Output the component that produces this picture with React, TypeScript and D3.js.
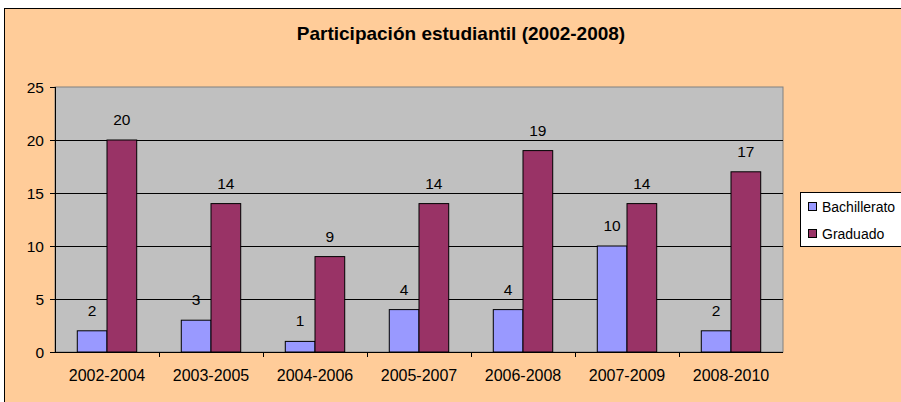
import React, { useEffect, useRef } from "react";
import * as d3 from "d3";

const categories = ["2002-2004", "2003-2005", "2004-2006", "2005-2007", "2006-2008", "2007-2009", "2008-2010"];
const seriesNames = ["Bachillerato", "Graduado"];
const bachillerato = [2, 3, 1, 4, 4, 10, 2];
const graduado = [20, 14, 9, 14, 19, 14, 17];
const yTicks = [0, 5, 10, 15, 20, 25];
const colors = ["#9999FF", "#993366"];

const App: React.FC = () => {
  const svgRef = useRef<SVGSVGElement | null>(null);

  useEffect(() => {
    const width = 901;
    const height = 402;
    const font = "Arial, 'Liberation Sans', sans-serif";
    const fs = 15.5;
    const plot = { left: 55, top: 87, right: 783, bottom: 352 };

    const svg = d3.select(svgRef.current).attr("width", width).attr("height", height);
    svg.selectAll("*").remove();

    // fondo del gráfico
    svg.append("rect").attr("width", width).attr("height", height).attr("fill", "#FFFFFF");
    svg
      .append("rect")
      .attr("x", 4.5)
      .attr("y", 8.5)
      .attr("width", width + 20)
      .attr("height", height + 20)
      .attr("fill", "#FFCC99")
      .attr("stroke", "#000")
      .attr("stroke-width", 1);

    svg
      .append("text")
      .attr("x", 461)
      .attr("y", 40)
      .attr("text-anchor", "middle")
      .attr("font-family", font)
      .attr("font-size", 19)
      .attr("font-weight", "bold")
      .text("Participación estudiantil (2002-2008)");

    const x0 = d3.scaleBand<string>().domain(categories).range([plot.left, plot.right]).paddingInner(0).paddingOuter(0);
    const groupW = (x0.bandwidth() * 2) / 3.5;
    const x1 = d3.scaleBand<string>().domain(seriesNames).range([0, groupW]);
    const y = d3.scaleLinear().domain([0, 25]).range([plot.bottom, plot.top]);

    svg
      .append("rect")
      .attr("x", plot.left)
      .attr("y", plot.top)
      .attr("width", plot.right - plot.left)
      .attr("height", plot.bottom - plot.top)
      .attr("fill", "#C0C0C0")
      .attr("stroke", "#808080");

    // líneas de cuadrícula
    svg
      .append("g")
      .selectAll("line")
      .data(yTicks.filter((t) => t > 0 && t < 25))
      .enter()
      .append("line")
      .attr("x1", plot.left)
      .attr("x2", plot.right)
      .attr("y1", (d) => Math.round(y(d)) + 0.5)
      .attr("y2", (d) => Math.round(y(d)) + 0.5)
      .attr("stroke", "#000");

    const data = categories.map((c, i) => ({ cat: c, values: [bachillerato[i], graduado[i]] }));

    const groups = svg
      .append("g")
      .selectAll("g")
      .data(data)
      .enter()
      .append("g")
      .attr("transform", (d) => `translate(${x0(d.cat)! + (x0.bandwidth() - groupW) / 2},0)`);

    groups
      .selectAll("rect")
      .data((d) => d.values.map((v, i) => ({ v, s: seriesNames[i], i })))
      .enter()
      .append("rect")
      .attr("x", (d) => x1(d.s)!)
      .attr("y", (d) => y(d.v))
      .attr("width", x1.bandwidth())
      .attr("height", (d) => y(0) - y(d.v))
      .attr("fill", (d) => colors[d.i])
      .attr("stroke", "#000")
      .attr("stroke-width", 1);

    groups
      .selectAll("text")
      .data((d) => d.values.map((v, i) => ({ v, s: seriesNames[i] })))
      .enter()
      .append("text")
      .attr("x", (d) => x1(d.s)! + x1.bandwidth() / 2)
      .attr("y", (d) => y(d.v) - 15)
      .attr("text-anchor", "middle")
      .attr("font-family", font)
      .attr("font-size", fs)
      .text((d) => d.v);

    // eje Y
    const yAxis = svg.append("g");
    yAxis
      .append("line")
      .attr("x1", plot.left + 0.5)
      .attr("x2", plot.left + 0.5)
      .attr("y1", plot.top)
      .attr("y2", plot.bottom)
      .attr("stroke", "#000");
    yAxis
      .selectAll("line.tick")
      .data(yTicks)
      .enter()
      .append("line")
      .attr("class", "tick")
      .attr("x1", plot.left - 5)
      .attr("x2", plot.left)
      .attr("y1", (d) => Math.round(y(d)) + 0.5)
      .attr("y2", (d) => Math.round(y(d)) + 0.5)
      .attr("stroke", "#000");
    yAxis
      .selectAll("text")
      .data(yTicks)
      .enter()
      .append("text")
      .attr("x", 44)
      .attr("y", (d) => y(d) + 5.5)
      .attr("text-anchor", "end")
      .attr("font-family", font)
      .attr("font-size", fs)
      .text((d) => d);

    // eje X
    const xAxis = svg.append("g");
    xAxis
      .append("line")
      .attr("x1", plot.left - 5)
      .attr("x2", plot.right)
      .attr("y1", plot.bottom + 0.5)
      .attr("y2", plot.bottom + 0.5)
      .attr("stroke", "#000");
    xAxis
      .selectAll("line.tick")
      .data(categories.slice(1))
      .enter()
      .append("line")
      .attr("class", "tick")
      .attr("x1", (d) => Math.round(x0(d)!) + 0.5)
      .attr("x2", (d) => Math.round(x0(d)!) + 0.5)
      .attr("y1", plot.bottom)
      .attr("y2", plot.bottom + 5)
      .attr("stroke", "#000");
    xAxis
      .selectAll("text")
      .data(categories)
      .enter()
      .append("text")
      .attr("x", (d) => x0(d)! + x0.bandwidth() / 2)
      .attr("y", 381)
      .attr("text-anchor", "middle")
      .attr("font-family", font)
      .attr("font-size", 16)
      .text((d) => d);

    // leyenda
    const legend = svg.append("g");
    legend
      .append("rect")
      .attr("x", 800.5)
      .attr("y", 192.5)
      .attr("width", 120)
      .attr("height", 54)
      .attr("fill", "#FFFFFF")
      .attr("stroke", "#000");
    const items = legend
      .selectAll("g")
      .data(seriesNames)
      .enter()
      .append("g")
      .attr("transform", (d, i) => `translate(808,${206 + i * 27})`);
    items
      .append("rect")
      .attr("x", 0.5)
      .attr("y", -3.5)
      .attr("width", 8)
      .attr("height", 8)
      .attr("fill", (d, i) => colors[i])
      .attr("stroke", "#000");
    items
      .append("text")
      .attr("x", 14)
      .attr("y", 5.5)
      .attr("font-family", font)
      .attr("font-size", 14)
      .text((d) => d);
  }, []);

  return (
    <svg ref={svgRef} style={{ position: "absolute", left: 0, top: 0, display: "block" }} />
  );
};

export default App;
